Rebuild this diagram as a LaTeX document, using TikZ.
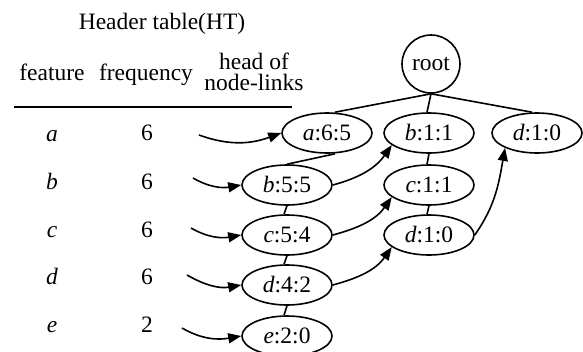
\documentclass[tikz,border=0pt]{standalone}
\usepackage{fontspec}
\setmainfont{Liberation Serif}
\usetikzlibrary{shapes.geometric,arrows.meta}
\tikzset{
  fpnode/.style={draw, ellipse, line width=1.6pt, minimum width=90pt, minimum height=40pt, inner sep=0pt},
  rootnode/.style={draw, circle, line width=1.6pt, minimum size=58pt, inner sep=0pt},
  txt/.style={inner sep=0pt, anchor=base},
  edge/.style={line width=1.6pt},
  link/.style={line width=1.6pt, -{Triangle[length=13pt,width=10pt]}},
}
\begin{document}
\begin{tikzpicture}[x=1pt,y=1pt,font=\fontsize{23.5}{25}\selectfont]
\clip (0,0) rectangle (583,-351);

% header table
\node[txt] (title) at (162,-29) {Header table(HT)};
\node[txt] (hfeat) at (52,-80) {feature};
\node[txt] (hfreq) at (146,-80) {frequency};
\node[txt, align=center, font=\fontsize{23.5}{21}\selectfont] (hhead) at (254,-90) {head of\\node-links};
\coordinate (ruleL) at (14,-107);
\coordinate (ruleR) at (292,-107);
\draw[edge] (ruleL) -- (ruleR);

% table rows
\node[txt] (fa) at (52,-141) {\textit{a}};
\node[txt] (fb) at (52,-189) {\textit{b}};
\node[txt] (fc) at (52,-237) {\textit{c}};
\node[txt] (fd) at (52,-284) {\textit{d}};
\node[txt] (fe) at (52,-332) {\textit{e}};
\node[txt] (na) at (147,-140) {6};
\node[txt] (nb) at (147,-189) {6};
\node[txt] (nc) at (147,-237) {6};
\node[txt] (nd) at (147,-284) {6};
\node[txt] (ne) at (147,-332) {2};

% FP-tree nodes
\node[rootnode] (root) at (431,-64) {root};
\node[fpnode] (a65) at (327,-133) {\textit{a}:6:5};
\node[fpnode] (b11) at (429,-133) {\textit{b}:1:1};
\node[fpnode] (d10a) at (537,-133) {\textit{d}:1:0};
\node[fpnode] (b55) at (287,-185) {\textit{b}:5:5};
\node[fpnode] (c11) at (429,-185) {\textit{c}:1:1};
\node[fpnode] (c54) at (287,-235) {\textit{c}:5:4};
\node[fpnode] (d10b) at (429,-235) {\textit{d}:1:0};
\node[fpnode] (d42) at (287,-285) {\textit{d}:4:2};
\node[fpnode] (e20) at (287,-336) {\textit{e}:2:0};

% tree edges
\draw[edge] (root.south) -- ([xshift=8pt]a65.north);
\draw[edge] (root.south) -- ([xshift=-2pt]b11.north);
\draw[edge] (root.south) -- ([xshift=-5pt]d10a.north);
\draw[edge] ([xshift=8pt]a65.south) -- (b55.north);
\draw[edge] (b55.south) -- ([xshift=-3pt]c54.north);
\draw[edge] (c54.south) -- ([xshift=-3pt]d42.north);
\draw[edge] (d42.south) -- ([xshift=-3pt]e20.north);
\draw[edge] (b11.south) -- ([xshift=-2pt]c11.north);
\draw[edge] (c11.south) -- ([xshift=-2pt]d10b.north);

% head-of-node-link pointers
\coordinate (sa) at (199,-135);
\coordinate (sb) at (193,-178);
\coordinate (sc) at (191,-228);
\coordinate (sd) at (187,-275);
\coordinate (se) at (182,-328);
\draw[link] (sa) to[out=-20,in=200] (a65.west);
\draw[link] (sb) to[out=-30,in=190] (b55.west);
\draw[link] (sc) to[out=-30,in=190] (c54.west);
\draw[link] (sd) to[out=-30,in=190] (d42.west);
\draw[link] (se) to[out=-30,in=190] (e20.west);

% node-links between nodes of the same item
\draw[link] (b55.east) to[out=15,in=235] (b11.198);
\draw[link] (c54.east) to[out=15,in=235] (c11.198);
\draw[link] (d42.east) to[out=15,in=235] (d10b.198);
\draw[link] (d10b.east) to[out=55,in=-100] (d10a.205);
\end{tikzpicture}
\end{document}
